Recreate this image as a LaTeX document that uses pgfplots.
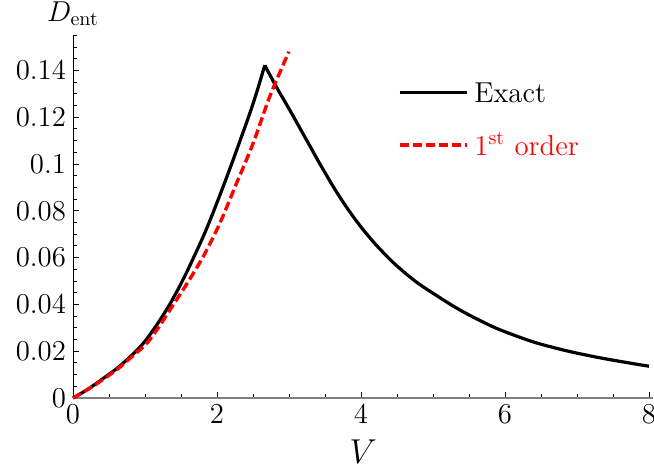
\documentclass[border=0pt]{standalone}
\usepackage{pgfplots}
\pgfplotsset{compat=1.18}

% exact curve, rising part and falling part
\pgfplotstableread{
V D
0     0
0.2   0.0036
0.417 0.0083
0.6   0.0124
0.741 0.0161
0.9   0.0208
1.019 0.0250
1.18  0.0320
1.343 0.0400
1.46  0.0465
1.575 0.0535
1.69  0.0610
1.806 0.0688
1.9   0.0757
1.99  0.0827
2.106 0.0920
2.222 0.1016
2.338 0.1115
2.454 0.1215
2.56  0.1315
2.663 0.1422
}\exactup
\pgfplotstableread{
V D
2.663 0.1422
2.75  0.1372
2.825 0.1329
2.94  0.1268
3.056 0.1206
3.17  0.1143
3.287 0.1079
3.40  0.1016
3.519 0.0953
3.635 0.0893
3.75  0.0838
3.866 0.0786
3.982 0.0738
4.1   0.0693
4.213 0.0653
4.33  0.0615
4.444 0.0580
4.56  0.0548
4.676 0.0518
4.79  0.0491
4.908 0.0466
5.1   0.0428
5.28  0.0393
5.464 0.0361
5.7   0.0324
5.926 0.0292
6.389 0.0240
6.852 0.0202
7.315 0.0172
7.778 0.0147
8.0   0.0136
}\exactdown
\pgfplotstableread{
V D
0     0
0.3   0.0055
0.602 0.0120
0.8   0.0172
1.019 0.0232
1.18  0.0298
1.343 0.0375
1.575 0.0485
1.806 0.0603
2.037 0.0745
2.269 0.0916
2.5   0.1087
2.73  0.1286
2.963 0.1455
3.0   0.1480
}\firstorder

\begin{document}
\begin{tikzpicture}
\begin{axis}[
  x=36pt, y=1170pt,
  xmin=0, xmax=8.06, ymin=0, ymax=0.155,
  axis lines=left,
  x axis line style={-, draw=black!50, line width=0.8pt},
  y axis line style={-, line width=0.5pt},
  tick align=inside,
  tick style={black, line width=0.5pt},
  major tick length=3pt, minor tick length=2pt,
  xtick={0,2,4,6,8}, minor x tick num=3,
  ytick={0,0.02,...,0.16}, minor y tick num=3,
  scaled y ticks=false,
  yticklabel style={/pgf/number format/fixed, /pgf/number format/precision=2},
  tick label style={font=\Large},
  xlabel={$V$},
  ylabel={$D_{\mathrm{ent}}$},
  every axis x label/.style={at={(rel axis cs:0.5,0)}, anchor=base, yshift=-32.5pt, font=\LARGE},
  every axis y label/.style={at={(rel axis cs:0,1)}, anchor=base, yshift=7pt, font=\Large},
  clip=false,
  legend style={draw=none, fill=none, inner sep=0pt, outer sep=0pt,
    at={(axis cs:4.514,0.1194)}, anchor=west, font=\Large,
    row sep=16.5pt,
    nodes={text height=10pt, text depth=0pt, inner ysep=0pt, inner xsep=3pt}},
  legend cell align=left,
  legend image code/.code={\draw[#1] (0pt,0pt) -- (33.5pt,0pt);},
]
\addplot[black, line width=1.6pt, smooth] table {\exactup};
\addlegendentry{Exact}
\addplot[black, line width=1.6pt, smooth, forget plot] table {\exactdown};
\addplot[red, line width=1.7pt, dash pattern=on 4.5pt off 2pt, smooth] table {\firstorder};
\addlegendentry{\textcolor{red}{1\textsuperscript{st} order}}
\end{axis}
\pgfresetboundingbox
\path[use as bounding box] (-36.5pt,-37.5pt) rectangle (290.5pt,199pt);
\end{tikzpicture}
\end{document}
